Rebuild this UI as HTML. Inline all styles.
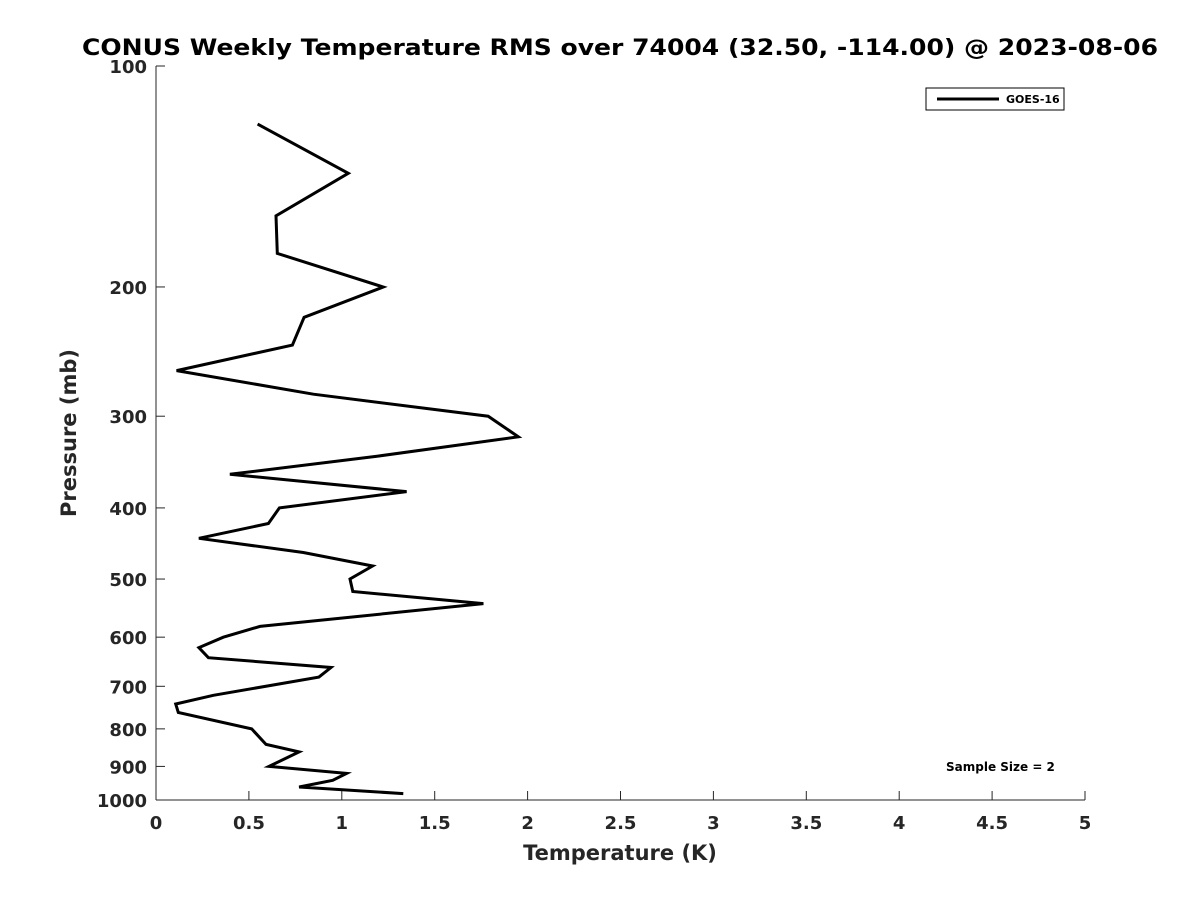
<!DOCTYPE html>
<html><head><meta charset="utf-8"><style>
body{margin:0;background:#fff}
svg{display:block}
text{font-family:"DejaVu Sans","Liberation Sans",sans-serif;font-weight:bold}
</style></head><body>
<svg id="chart" width="1200" height="900" xmlns="http://www.w3.org/2000/svg">
<rect width="1200" height="900" fill="#fff"/>
<text x="620" y="55" text-anchor="middle" font-size="22" fill="#000" textLength="1076" lengthAdjust="spacingAndGlyphs">CONUS Weekly Temperature RMS over 74004 (32.50, -114.00) @ 2023-08-06</text>
<g id="axes"></g>
<path id="series" fill="none" stroke="#000" stroke-width="3" stroke-linejoin="miter"/>
<g>
<rect x="926" y="88" width="138" height="22" fill="#fff" stroke="#000" stroke-width="1"/>
<line x1="937" y1="99" x2="999" y2="99" stroke="#000" stroke-width="3"/>
<text x="1006" y="103" font-size="11" fill="#000">GOES-16</text>
</g>
<text x="946" y="771" font-size="12" fill="#000">Sample Size = 2</text>
<text x="620" y="860" text-anchor="middle" font-size="21" fill="#262626">Temperature (K)</text>
<text transform="translate(76,433) rotate(-90)" text-anchor="middle" font-size="21" fill="#262626">Pressure (mb)</text>
</svg>
<script>
const temps=[0.547,1.035,0.646,0.653,1.223,0.797,0.734,0.111,0.847,1.788,1.95,1.195,0.398,1.349,0.664,0.605,0.231,0.793,1.166,1.044,1.059,1.762,0.56,0.362,0.231,0.282,0.942,0.877,0.309,0.106,0.12,0.515,0.592,0.77,0.608,1.026,0.951,0.77,1.331];
const pressures=[120,140,160,180,200,220,240,260,280,300,320,340,360,380,400,420,440,460,480,500,520,540,580,600,620,640,660,680,720,740,760,800,840,860,900,920,940,960,980];
const xTicks=[0,0.5,1,1.5,2,2.5,3,3.5,4,4.5,5];
const xTickLabels=["0","0.5","1","1.5","2","2.5","3","3.5","4","4.5","5"];
const yTicks=[100,200,300,400,500,600,700,800,900,1000];
const X0=156,X1=1085,Y0=66,Y1=800;
function xs(v){return X0+(v-0)/(5-0)*(X1-X0);}
function ys(p){return Y0+(Math.log10(p)-2)/(3-2)*(Y1-Y0);}
const NS="http://www.w3.org/2000/svg";
const ax=document.getElementById('axes');
function mk(tag,attrs){const e=document.createElementNS(NS,tag);for(const k in attrs)e.setAttribute(k,attrs[k]);return e;}
let l=mk('line',{x1:X0,y1:Y0,x2:X0,y2:Y1,stroke:'#262626','stroke-width':1});


ax.appendChild(l);
l=mk('line',{x1:X0,y1:Y1,x2:X1,y2:Y1,stroke:'#262626','stroke-width':1});


ax.appendChild(l);
xTicks.forEach((v,i)=>{
  const x=xs(v);
  const t=mk('line',{x1:x,y1:Y1,x2:x,y2:Y1-9,stroke:'#262626','stroke-width':1});
  
  
  ax.appendChild(t);
  const tx=mk('text',{x:x,y:Y1+29,'text-anchor':'middle','font-size':18,fill:'#262626'});
  
  
  tx.textContent=xTickLabels[i];
  ax.appendChild(tx);
});
yTicks.forEach(p=>{
  const y=ys(p);
  const t=mk('line',{x1:X0,y1:y,x2:X0+9,y2:y,stroke:'#262626','stroke-width':1});
  
  
  ax.appendChild(t);
  const tx=mk('text',{x:X0-9,y:y+7,'text-anchor':'end','font-size':18,fill:'#262626'});
  
  
  tx.textContent=String(p);
  ax.appendChild(tx);
});
let d='';
temps.forEach((t,i)=>{d+=(i?'L':'M')+xs(t).toFixed(1)+','+ys(pressures[i]).toFixed(1);});
document.getElementById('series').setAttribute('d',d);
</script>
</body></html>
